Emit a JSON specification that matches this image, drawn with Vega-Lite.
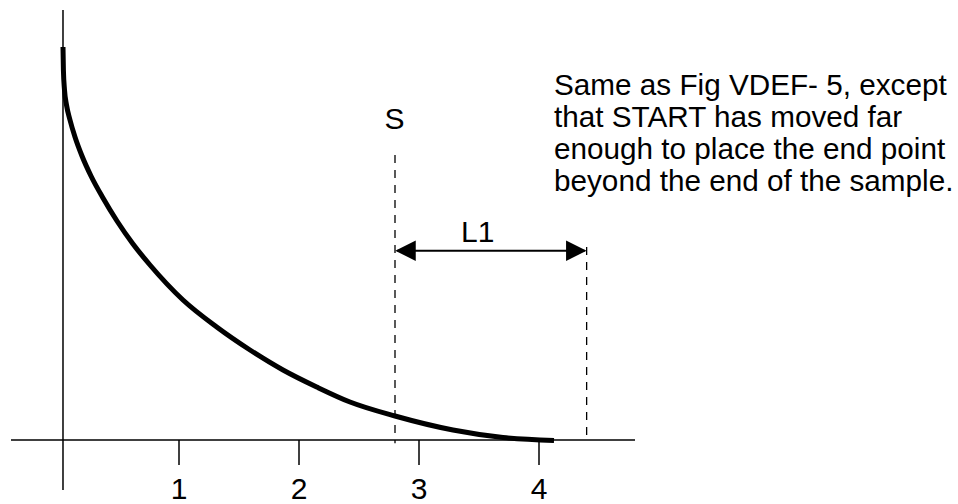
{
  "$schema": "https://vega.github.io/schema/vega-lite/v6.json",
  "width": 958,
  "height": 504,
  "autosize": "none",
  "padding": 0,
  "background": "white",
  "config": {"view": {"stroke": null}},
  "datasets": {
    "axes": [
      {"x": -0.4, "x2": 4.8, "y": 0, "y2": 0},
      {"x": 0.0333, "x2": 0.0333, "y": -0.5, "y2": 4.3},
      {"x": 1, "x2": 1, "y": 0, "y2": -0.25},
      {"x": 2, "x2": 2, "y": 0, "y2": -0.25},
      {"x": 3, "x2": 3, "y": 0, "y2": -0.25},
      {"x": 4, "x2": 4, "y": 0, "y2": -0.25}
    ],
    "dashed": [
      {"x": 2.8, "y": 2.85, "y2": -0.033},
      {"x": 4.397, "y": 1.93, "y2": 0}
    ],
    "shaft": [
      {"x": 2.82, "x2": 4.38, "y": 1.893}
    ],
    "heads": [
      {"x": 2.8875, "y": 1.893, "dir": "L"},
      {"x": 4.311, "y": 1.893, "dir": "R"}
    ],
    "curve": [
      {"x": 0.0333, "y": 3.93},
      {"x": 0.0367, "y": 3.7},
      {"x": 0.0458, "y": 3.5},
      {"x": 0.0625, "y": 3.35},
      {"x": 0.0917, "y": 3.2},
      {"x": 0.1333, "y": 3.03},
      {"x": 0.1917, "y": 2.84},
      {"x": 0.2667, "y": 2.64},
      {"x": 0.3667, "y": 2.42},
      {"x": 0.4833, "y": 2.19},
      {"x": 0.6167, "y": 1.96},
      {"x": 0.7583, "y": 1.75},
      {"x": 1.0333, "y": 1.4},
      {"x": 1.3142, "y": 1.13},
      {"x": 1.5917, "y": 0.9},
      {"x": 1.8667, "y": 0.7},
      {"x": 2.1475, "y": 0.53},
      {"x": 2.425, "y": 0.38},
      {"x": 2.8, "y": 0.24},
      {"x": 3.2833, "y": 0.1},
      {"x": 3.7, "y": 0.025},
      {"x": 4.125, "y": -0.005}
    ],
    "labels": [
      {"x": 2.795, "y": 3.107, "text": "S"},
      {"x": 3.49, "y": 1.98, "text": "L1"},
      {"x": 1, "y": -0.59, "text": "1"},
      {"x": 2, "y": -0.59, "text": "2"},
      {"x": 3, "y": -0.59, "text": "3"},
      {"x": 4, "y": -0.59, "text": "4"}
    ],
    "note": [
      {"x": 4.125, "y": 3.455, "text": "Same as Fig VDEF- 5, except\nthat START has moved far\nenough to place the end point\nbeyond the end of the sample."}
    ]
  },
  "layer": [
    {
      "data": {"name": "axes"},
      "mark": {"type": "rule", "color": "black", "strokeWidth": 1.5},
      "encoding": {
        "x": {"field": "x", "type": "quantitative", "axis": null, "scale": {"domain": [-0.491667, 7.491667], "nice": false, "zero": false}},
        "x2": {"field": "x2"},
        "y": {"field": "y", "type": "quantitative", "axis": null, "scale": {"domain": [-0.64, 4.4], "nice": false, "zero": false}},
        "y2": {"field": "y2"}
      }
    },
    {
      "data": {"name": "dashed"},
      "mark": {"type": "rule", "color": "black", "strokeWidth": 1.3, "strokeDash": [8, 7]},
      "encoding": {
        "x": {"field": "x", "type": "quantitative"},
        "y": {"field": "y", "type": "quantitative"},
        "y2": {"field": "y2"}
      }
    },
    {
      "data": {"name": "shaft"},
      "mark": {"type": "rule", "color": "black", "strokeWidth": 2},
      "encoding": {
        "x": {"field": "x", "type": "quantitative"},
        "x2": {"field": "x2"},
        "y": {"field": "y", "type": "quantitative"}
      }
    },
    {
      "data": {"name": "heads"},
      "mark": {"type": "point", "filled": true, "color": "black", "opacity": 1, "size": 420},
      "encoding": {
        "x": {"field": "x", "type": "quantitative"},
        "y": {"field": "y", "type": "quantitative"},
        "shape": {"field": "dir", "type": "nominal", "legend": null, "scale": {"domain": ["L", "R"], "range": ["M-1,0L1,-1L1,1Z", "M1,0L-1,-1L-1,1Z"]}}
      }
    },
    {
      "data": {"name": "curve"},
      "mark": {"type": "line", "color": "black", "strokeWidth": 5, "interpolate": "monotone"},
      "encoding": {
        "x": {"field": "x", "type": "quantitative"},
        "y": {"field": "y", "type": "quantitative"}
      }
    },
    {
      "data": {"name": "labels"},
      "mark": {"type": "text", "font": "Liberation Sans", "fontSize": 30, "align": "center", "baseline": "alphabetic", "color": "black"},
      "encoding": {
        "x": {"field": "x", "type": "quantitative"},
        "y": {"field": "y", "type": "quantitative"},
        "text": {"field": "text"}
      }
    },
    {
      "data": {"name": "note"},
      "mark": {"type": "text", "font": "Liberation Sans", "fontSize": 29.7, "align": "left", "baseline": "alphabetic", "lineBreak": "\n", "lineHeight": 32, "color": "black"},
      "encoding": {
        "x": {"field": "x", "type": "quantitative"},
        "y": {"field": "y", "type": "quantitative"},
        "text": {"field": "text"}
      }
    }
  ]
}
